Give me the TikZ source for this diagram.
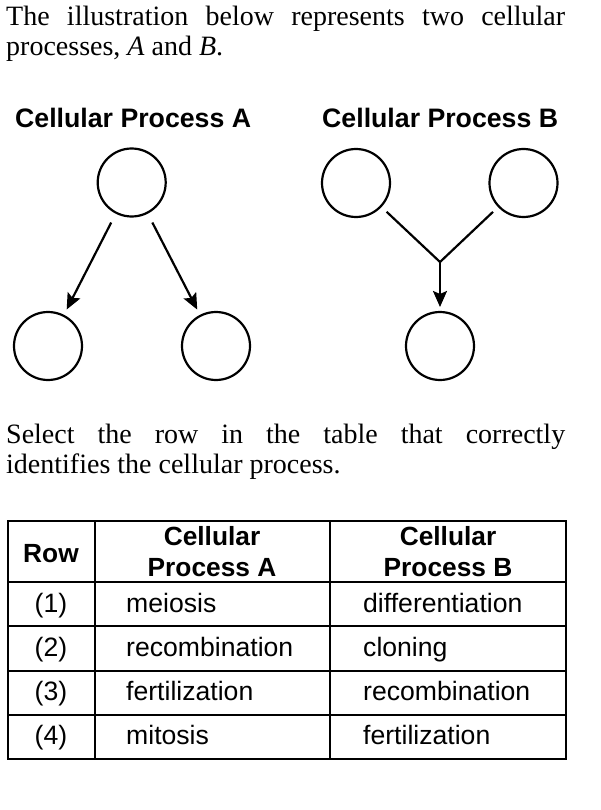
\documentclass[tikz,border=0pt]{standalone}
\usepackage{fontspec}
\setmainfont{Liberation Serif}
\newfontfamily\sansf{Liberation Sans}
\usetikzlibrary{arrows.meta}
\begin{document}
\begin{tikzpicture}[x=1pt,y=-1pt,
  cell/.style={circle,draw,line width=2.2pt,minimum size=68pt,inner sep=0pt,outer sep=0pt},
  conn/.style={line width=2.2pt},
  arr/.style={line width=2.2pt,-{Stealth[length=16pt,width=14pt,inset=3pt]}},
  serif/.style={anchor=base west,inner sep=0pt,font=\fontsize{28}{30}\selectfont},
  head/.style={anchor=base west,inner sep=0pt,font=\sansf\bfseries\fontsize{26.7}{30}\selectfont},
  tb/.style={anchor=base west,inner sep=0pt,font=\sansf\fontsize{26.6}{30}\selectfont},
  th/.style={anchor=base,inner sep=0pt,font=\sansf\bfseries\fontsize{26.3}{30}\selectfont},
  tc/.style={anchor=base,inner sep=0pt,font=\sansf\fontsize{26.6}{30}\selectfont},
  gridline/.style={line width=2pt}]
\useasboundingbox[fill=white] (0,0) rectangle (600,810);

% intro text
\node[serif] (l1) at (6,26) {\makebox[559pt][s]{The illustration below represents two cellular}};
\node[serif] (l2) at (6,56) {processes, \textit{A} and \textit{B}.};

% headings
\node[head] (hA) at (15,128) {Cellular Process A};
\node[head] (hB) at (322,128) {Cellular Process B};

% process A
\node[cell] (at) at (131.7,182.5) {};
\node[cell] (al) at (48,346) {};
\node[cell] (ar) at (216,346) {};
\draw[arr,shorten <=11pt,shorten >=7pt] (at) -- (al);
\draw[arr,shorten <=11pt,shorten >=7pt] (at) -- (ar);

% process B
\node[cell] (bl) at (356,183) {};
\node[cell] (br) at (523.5,183) {};
\node[cell] (bb) at (440,346) {};
\coordinate (j) at (440,262);
\draw[conn,shorten <=8pt] (bl) -- (j);
\draw[conn,shorten <=8pt] (br) -- (j);
\draw[arr,shorten >=5pt] (j) -- (bb);

% question text
\node[serif] (q1) at (6,443) {\makebox[559pt][s]{Select the row in the table that correctly}};
\node[serif] (q2) at (6,473) {identifies the cellular process.};

% table
\draw[gridline] (7.5,521) rectangle (566,758.5);
\foreach \yy in {582,626,670.5,715} \draw[gridline] (7.5,\yy) -- (566,\yy);
\foreach \xx in {94.5,330} \draw[gridline] (\xx,521) -- (\xx,758.5);

\node[th] (hr) at (51,562) {Row};
\node[th] (ha1) at (212,545) {Cellular};
\node[th] (ha2) at (212,576) {Process A};
\node[th] (hb1) at (448,545) {Cellular};
\node[th] (hb2) at (448,576) {Process B};

\node[tc] (r1) at (51,612) {(1)};
\node[tb] (a1) at (126,612) {meiosis};
\node[tb] (b1) at (363,612) {differentiation};
\node[tc] (r2) at (51,656) {(2)};
\node[tb] (a2) at (126,656) {recombination};
\node[tb] (b2) at (363,656) {cloning};
\node[tc] (r3) at (51,700.5) {(3)};
\node[tb] (a3) at (126,700.5) {fertilization};
\node[tb] (b3) at (363,700.5) {recombination};
\node[tc] (r4) at (51,744.5) {(4)};
\node[tb] (a4) at (126,744.5) {mitosis};
\node[tb] (b4) at (363,744.5) {fertilization};
\end{tikzpicture}
\end{document}
